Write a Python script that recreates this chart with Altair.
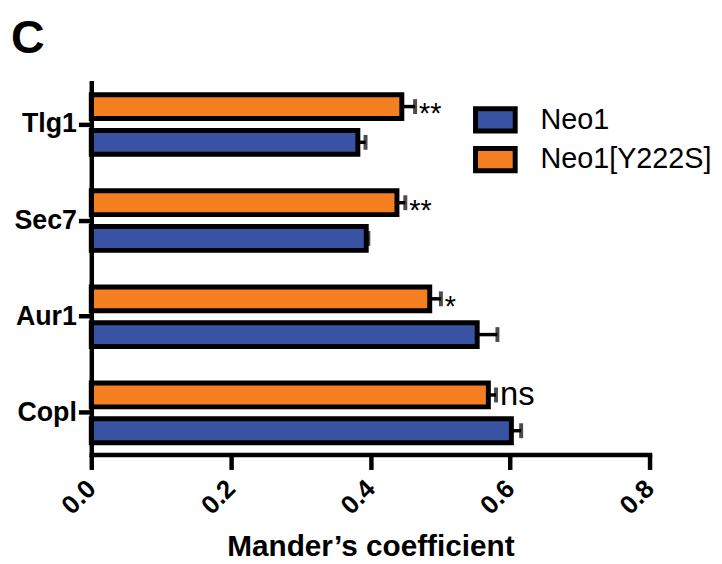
import altair as alt
import pandas as pd

# ---- data ----
categories = ["Tlg1", "Sec7", "Aur1", "Copl"]
series = ["Neo1", "Neo1[Y222S]"]
neo1_values = [0.382, 0.394, 0.553, 0.602]
neo1_err = [0.011, 0.003, 0.029, 0.014]
y222s_values = [0.445, 0.438, 0.485, 0.569]
y222s_err = [0.019, 0.012, 0.016, 0.011]
significance = ["**", "**", "*", "ns"]
x_ticks = [0.0, 0.2, 0.4, 0.6, 0.8]
colors = ["#3953A4", "#F47F20"]

rows = []
for i, c in enumerate(categories):
    rows.append(dict(cat=c, series="Neo1", value=neo1_values[i],
                     hi=neo1_values[i] + neo1_err[i], sig=""))
    rows.append(dict(cat=c, series="Neo1[Y222S]", value=y222s_values[i],
                     hi=y222s_values[i] + y222s_err[i], sig=significance[i]))
df = pd.DataFrame(rows)

FONT = "Liberation Sans"
TITLE = "Mander\u2019s coefficient"

y_enc = alt.Y(
    "cat:N", sort=categories,
    scale=alt.Scale(paddingInner=0.38, paddingOuter=0.124),
    axis=alt.Axis(title=None, labelFont=FONT, labelFontWeight="bold", labelFontSize=27,
                  labelColor="black", domainColor="black", domainWidth=4.5, domainCap="square",
                  tickColor="black", tickWidth=4.5, tickSize=13, labelPadding=2, zindex=1),
)
yoff = alt.YOffset("series:N", sort=["Neo1[Y222S]", "Neo1"],
                   scale=alt.Scale(paddingInner=0.333, paddingOuter=0))
x_scale = alt.Scale(domain=[0, 0.8], nice=False, zero=True)
x_axis = alt.Axis(values=x_ticks, format=".1f", labelAngle=-45, labelAlign="right",
                  labelBaseline="middle", labelFont=FONT, labelFontWeight="bold",
                  labelFontSize=26, labelColor="black", labelPadding=15,
                  tickSize=15, tickWidth=4.5, tickColor="black",
                  domainWidth=4.5, domainColor="black", domainCap="square",
                  title=TITLE, titleFont=FONT, titleFontWeight="bold", titleFontSize=30,
                  titleColor="black", titleY=102, titleBaseline="alphabetic",
                  labelFlush=False, labelOverlap=False, grid=False, zindex=1)

base = alt.Chart(df)

bars = base.mark_bar(stroke="black", strokeWidth=5).encode(
    x=alt.X("value:Q", scale=x_scale, axis=x_axis, title=TITLE),
    y=y_enc,
    yOffset=yoff,
    color=alt.Color("series:N", scale=alt.Scale(domain=series, range=colors),
                    legend=alt.Legend(orient="none", legendX=389, legendY=19, title=None,
                                      symbolType="M-1.25,-0.7H1.25V0.7H-1.25Z",
                                      symbolSize=1024, symbolStrokeColor="black",
                                      symbolStrokeWidth=5, symbolOpacity=1,
                                      labelFont=FONT, labelFontSize=29, labelColor="black",
                                      labelOffset=27, rowPadding=-5, labelLimit=400)),
)

rules = base.mark_rule(color="black", strokeWidth=3.5).encode(
    x=alt.X("value:Q", scale=x_scale, title=TITLE),
    x2="hi:Q",
    y=y_enc,
    yOffset=yoff,
)

caps = base.mark_tick(color="black", thickness=4, size=15, orient="vertical").encode(
    x=alt.X("hi:Q", scale=x_scale, title=TITLE),
    y=y_enc,
    yOffset=yoff,
)

stars = base.transform_filter("datum.sig != '' && datum.sig != 'ns'").mark_text(
    align="left", baseline="middle", dx=4, dy=8, fontSize=29, font=FONT, color="black"
).encode(
    x=alt.X("hi:Q", scale=x_scale, title=TITLE),
    y=y_enc,
    yOffset=yoff,
    text="sig:N",
)

ns = base.transform_filter("datum.sig == 'ns'").mark_text(
    align="left", baseline="middle", dx=4, dy=0, fontSize=33, font=FONT, color="black"
).encode(
    x=alt.X("hi:Q", scale=x_scale, title=TITLE),
    y=y_enc,
    yOffset=yoff,
    text="sig:N",
)

panel = alt.Chart(pd.DataFrame({"label": ["C"]})).mark_text(
    font=FONT, fontWeight="bold", fontSize=47, align="left", baseline="alphabetic", color="black"
).encode(x=alt.value(-81), y=alt.value(-30), text="label:N")

chart = alt.layer(bars, rules, caps, stars, ns, panel).properties(
    width=563, height=375,
    autosize=alt.AutoSizeParams(type="none"),
    padding={"left": 84, "top": 73, "right": 65, "bottom": 108},
).configure_view(stroke=None)

chart.save("out.html", embed_options={"renderer": "svg", "actions": False})
